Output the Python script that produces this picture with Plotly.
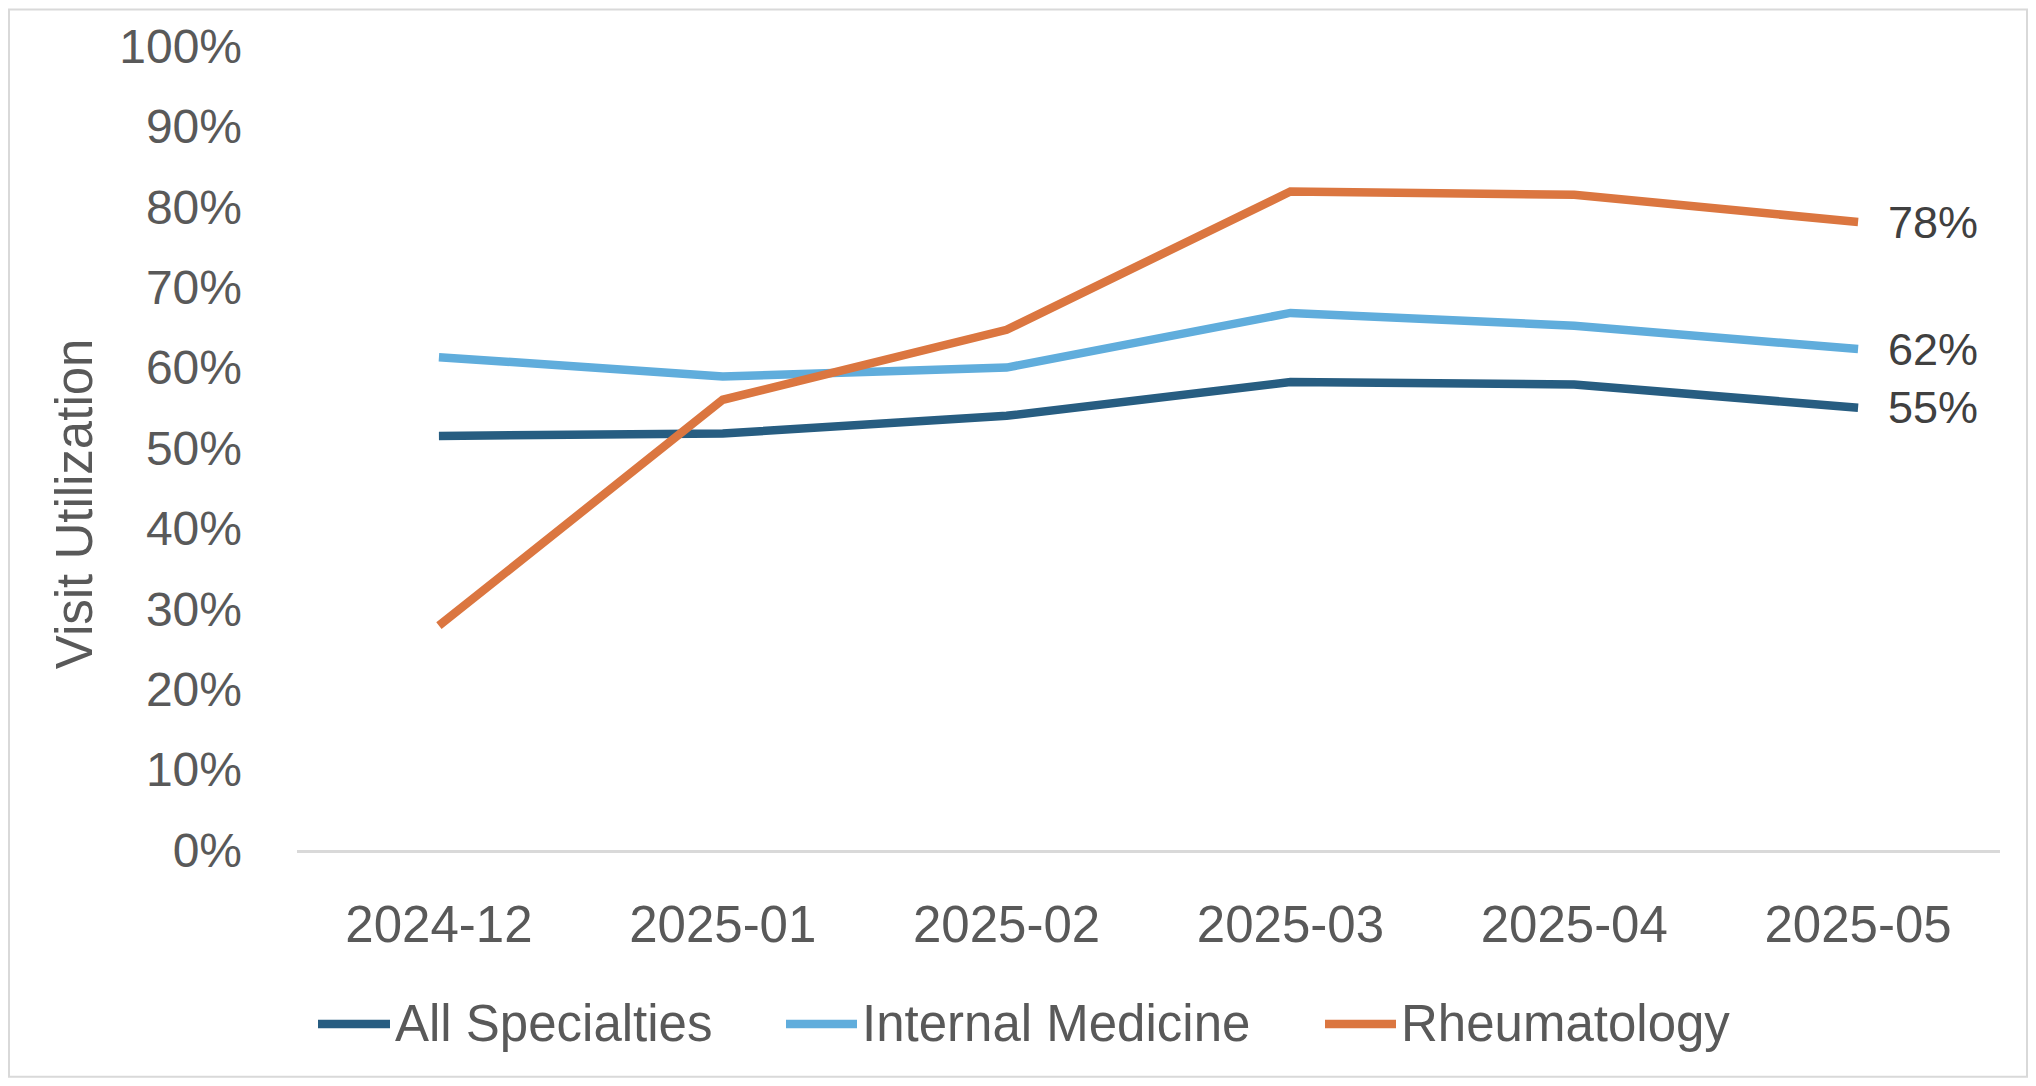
import plotly.graph_objects as go

# ---- data ----
months = ["2024-12", "2025-01", "2025-02", "2025-03", "2025-04", "2025-05"]
series_names = ["All Specialties", "Internal Medicine", "Rheumatology"]
all_specialties = [0.515, 0.518, 0.540, 0.582, 0.579, 0.550]
internal_medicine = [0.613, 0.589, 0.600, 0.668, 0.652, 0.623]
rheumatology = [0.279, 0.560, 0.647, 0.819, 0.815, 0.781]
y_ticks = [0, 0.1, 0.2, 0.3, 0.4, 0.5, 0.6, 0.7, 0.8, 0.9, 1.0]
y_tick_labels = ["0%", "10%", "20%", "30%", "40%", "50%", "60%", "70%", "80%", "90%", "100%"]

colors = ["#275d81", "#60addc", "#db7640"]
values = [all_specialties, internal_medicine, rheumatology]

OFF = 8  # page body margin
W, H = 2036 - 2 * OFF, 1086 - 2 * OFF
L, T = 297 - OFF, 45.5 - OFF
R = W - (2000 - OFF)
B = H - (850 - OFF)
PW, PH = W - L - R, H - T - B

fig = go.Figure()
for name, vals, col in zip(series_names, values, colors):
    fig.add_trace(go.Scatter(
        x=months, y=vals, mode="lines", name=name,
        line=dict(color=col, width=8.5), showlegend=False,
        hoverinfo="skip"))
    # end label
    fig.add_annotation(x=months[-1], y=vals[-1], xref="x", yref="y",
                       text=f"{round(vals[-1]*100):.0f}%", showarrow=False,
                       xanchor="left", yanchor="middle", xshift=28,
                       font=dict(family="Liberation Sans, Arial", size=45, color="#404040"))

# custom legend (layout positions in px of the reference image)
legend_swatch_px = [(318, 390), (786, 857), (1325, 1396)]
legend_y_px = 1024
for (x0, x1), name, col in zip(legend_swatch_px, series_names, colors):
    px0 = (x0 - OFF - L) / PW
    px1 = (x1 - OFF - L) / PW
    py = ((T + PH) - (legend_y_px - OFF)) / PH
    fig.add_shape(type="line", xref="paper", yref="paper", x0=px0, x1=px1, y0=py, y1=py,
                  line=dict(color=col, width=8.5))
    fig.add_annotation(xref="paper", yref="paper", x=px1 + 3 / PW, y=py, text=name,
                       showarrow=False, xanchor="left", yanchor="middle",
                       font=dict(family="Liberation Sans, Arial", size=51, color="#595959"))

# y-axis title
fig.add_annotation(xref="paper", yref="paper",
                   x=(74 - OFF - L) / PW, y=((T + PH) - (504 - OFF)) / PH,
                   text="Visit Utilization", textangle=-90, showarrow=False,
                   xanchor="center", yanchor="middle",
                   font=dict(family="Liberation Sans, Arial", size=51, color="#595959"))

# outer border
fig.add_shape(type="rect", xref="paper", yref="paper",
              x0=-L / PW + 1 / PW, x1=1 + (R - 1) / PW,
              y0=-B / PH + 1 / PH, y1=1 + (T - 1) / PH,
              line=dict(color="#d9d9d9", width=2), layer="below")

fig.update_layout(
    width=W, height=H,
    margin=dict(l=L, r=R, t=T, b=B),
    paper_bgcolor="white", plot_bgcolor="white",
    font=dict(family="Liberation Sans, Arial", color="#595959"),
)
fig.update_xaxes(
    type="category", range=[-0.5, 5.5], showgrid=False,
    showline=True, linecolor="#d9d9d9", linewidth=3,
    tickfont=dict(size=51, color="#595959"), ticks="", ticklabelstandoff=28,
    zeroline=False, fixedrange=True)
fig.update_yaxes(
    range=[0, 1.0], tickvals=y_ticks, ticktext=y_tick_labels,
    showgrid=False, zeroline=False, showline=False,
    tickfont=dict(size=48, color="#595959"), ticklabelstandoff=54,
    fixedrange=True)

fig.write_html("out.html")
